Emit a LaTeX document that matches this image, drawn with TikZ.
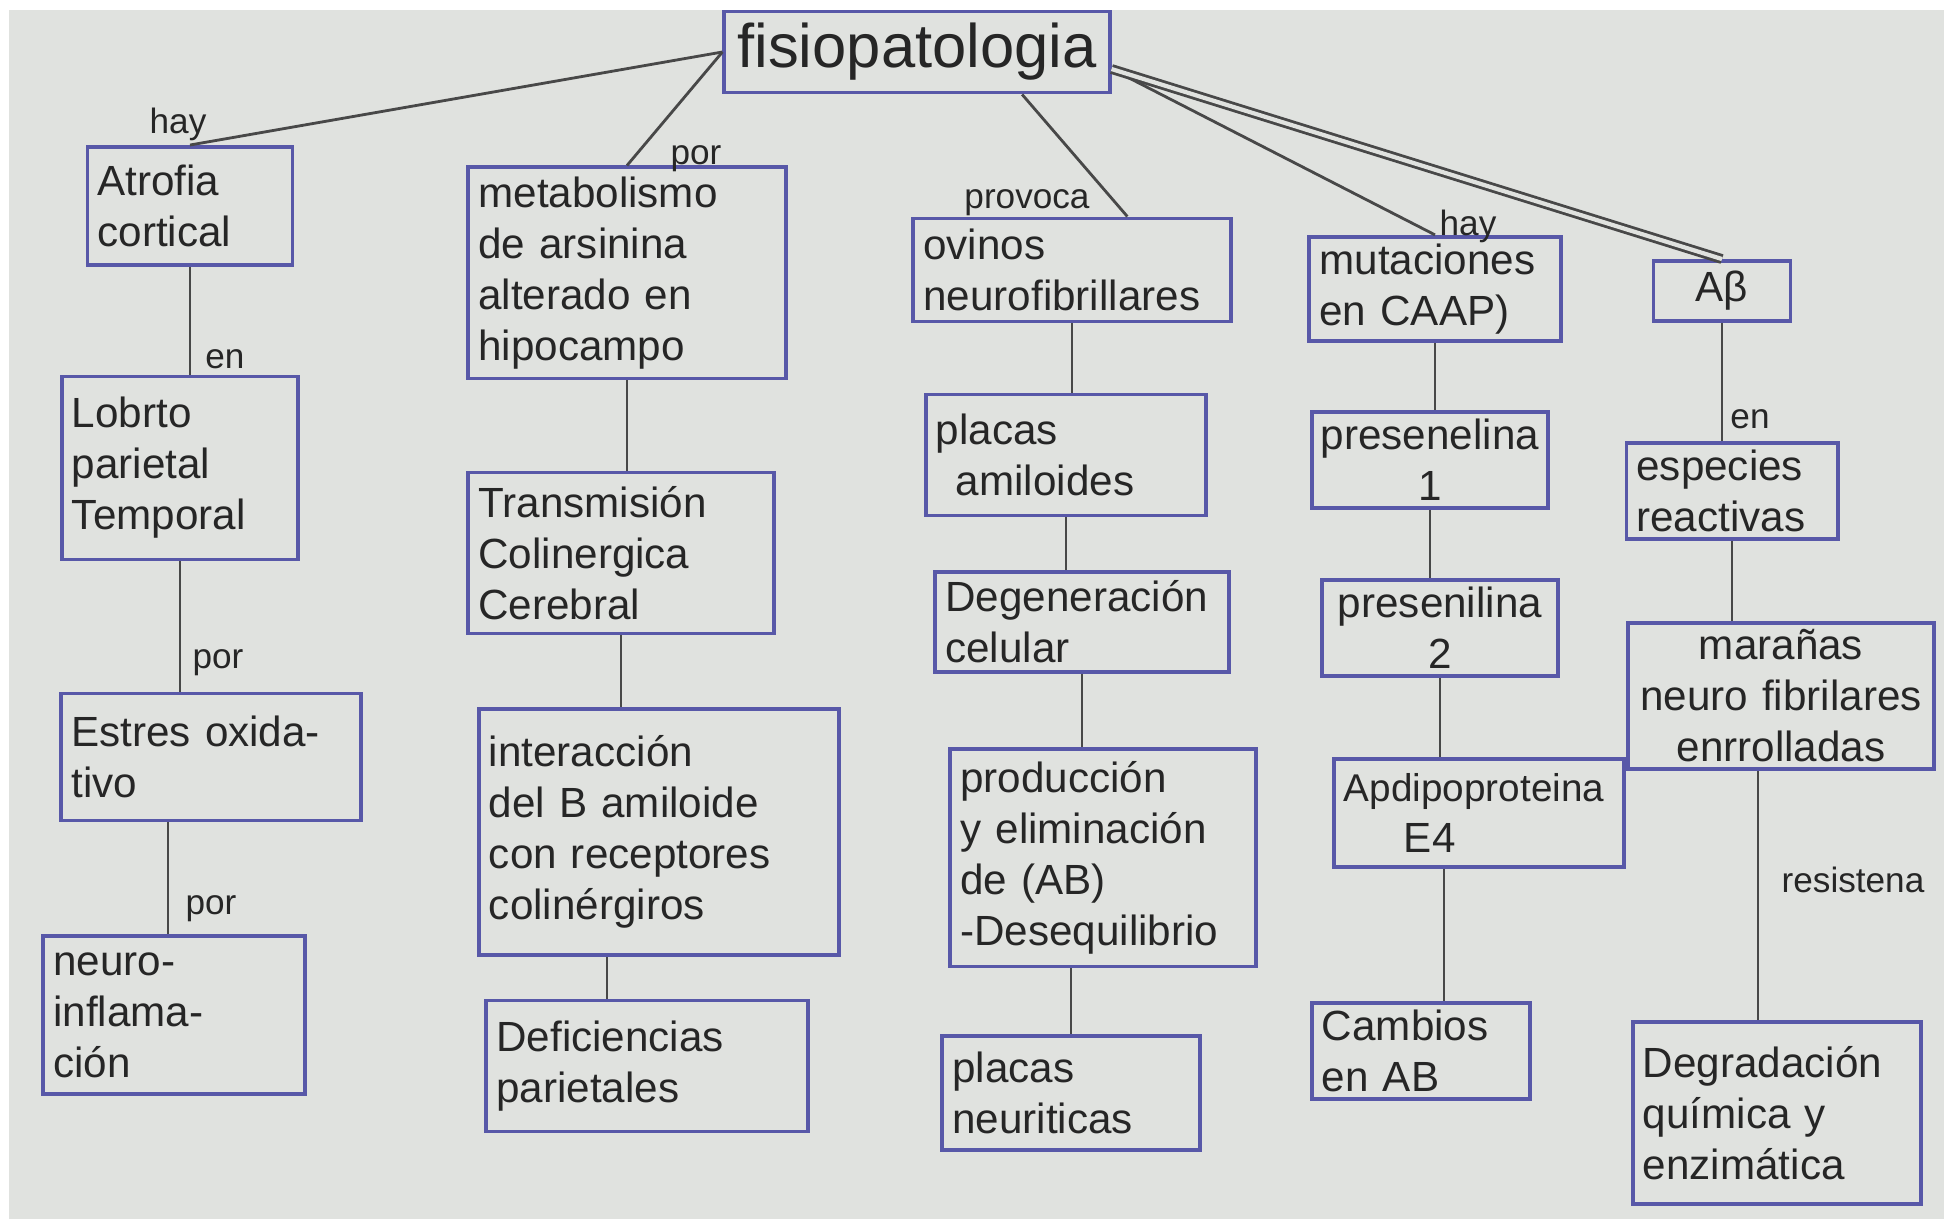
\documentclass[tikz,border=0pt]{standalone}
\usepackage{fontspec}
\setmainfont{Liberation Sans}

\definecolor{bg}{RGB}{224,226,223}
\definecolor{boxblue}{RGB}{88,88,168}
\definecolor{ink}{RGB}{38,38,38}
\definecolor{wirec}{RGB}{72,72,72}

\tikzset{
  concept/.style={draw=boxblue, line width=1.1pt, inner xsep=0.1cm, inner ysep=2pt,
                  align=left, text=ink, font=\fontsize{12}{14.5}\selectfont},
  box/.style 2 args={concept, text width=#1cm, minimum height=#2cm},
  rel/.style={text=ink, font=\fontsize{10}{12}\selectfont},
  wire/.style={draw=wirec, line width=0.8pt},
}

\begin{document}
\begin{tikzpicture}[x=0.01cm, y=-0.01cm]
	\useasboundingbox (0,0) rectangle (1950,1219);
	\fill[white] (0,0) rectangle (1950,1219);
	\fill[bg] (9,10) rectangle (1944,1219);

	% top
	\node[concept, align=center, minimum width=3.85cm, minimum height=.81cm,
	      font=\fontsize{17.5}{20}\selectfont] at (917,52) (fisio) {fisiopatologia};

	% first row
	\node[box={1.85}{1.18}] at (190,206) (atrofia) {Atrofia\\cortical};
	\node[box={2.97}{2.11}] at (627,273) (metab) {metabolismo\\de arsinina\\alterado en\\hipocampo};
	\node[box={2.97}{1.03}] at (1072,270) (ovinos) {ovinos\\neurofibrillares};
	\node[box={2.31}{0.94}] at (1435,289) (mutac) {mutaciones\\en CAAP)};
	\node[box={1.17}{0.60}, align=center] at (1722,291) (ab) {Aβ};

	% second row
	\node[box={2.16}{1.83}] at (180,468) (lobrto) {Lobrto\\parietal\\Temporal};
	\node[box={2.85}{1.61}] at (621,553) (transm) {Transmisión\\Colinergica\\Cerebral};
	\node[box={2.60}{1.21}] at (1066,455) (placas) {placas\\\hspace*{0.2cm}amiloides};
	\node[box={2.26}{0.81}, inner xsep=0.05cm, align=center] at (1430,460) (presen1) {presenelina\\1};
	\node[box={1.91}{0.94}] at (1732,491) (especies) {especies\\reactivas};

	% third row
	\node[box={2.79}{1.27}] at (211,757) (estres) {Estres oxida-\\tivo};
	\node[box={3.40}{2.46}] at (659,832) (interac) {interacción\\del B amiloide\\con receptores\\colinérgiros};
	\node[box={2.73}{1.00}] at (1082,622) (degen) {Degeneración\\celular};
	\node[box={2.26}{0.88}, inner xsep=0.05cm, align=center] at (1440,628) (presen2) {presenilina\\2};
	\node[box={2.85}{1.37}, align=center] at (1781,696) (maranas) {marañas\\neuro fibrilares\\enrrolladas};

	% fourth row
	\node[box={2.85}{2.17}] at (1103,858) (produc) {producción\\y eliminación\\de (AB)\\-Desequilibrio};
	\node[box={2.70}{1.08}] at (1479,813) (apdipo) {{\fontsize{11}{14.5}\selectfont Apdipoproteina}\\\hspace*{0.6cm}E4};

	% bottom
	\node[box={2.41}{1.58}] at (174,1015) (neuro) {neuro-\\inflama-\\ción};
	\node[box={3.01}{1.31}] at (647,1066) (defic) {Deficiencias\\parietales};
	\node[box={2.37}{1.14}] at (1071,1093) (placasn) {placas\\neuriticas};
	\node[box={1.98}{0.93}] at (1421,1051) (cambios) {Cambios\\en AB};
	\node[box={2.68}{1.82}] at (1777,1113) (degrad) {Degradación\\química y\\enzimática};

	% link words
	\node[rel] at (178,124) (hay1) {hay};
	\node[rel] at (696,159) (por1) {por};
	\node[rel] at (1027,203) (provoca) {provoca};
	\node[rel] at (1468,226) (hay2) {hay};
	\node[rel] at (225,359) (en1) {en};
	\node[rel] at (218,663) (por2) {por};
	\node[rel] at (211,909) (por3) {por};
	\node[rel] at (1750,419) (en2) {en};
	\node[rel] at (1853,880) (resist) {resistena};

	\coordinate (cx1) at (168,0);
	\coordinate (cx2) at (1444,0);
	\coordinate (cx3) at (1758,0);
	\coordinate (cx4) at (607,0);

	% from the top
	\draw[wire] (fisio.west) -- (atrofia.north);
	\draw[wire] (fisio.west) -- (metab.north);
	\draw[wire] (fisio.-22) -- (ovinos.44);
	\draw[wire] (fisio.-5) -- (mutac.north);
	\draw[wire, double=bg, double distance=1.2pt] (fisio.-5) -- (ab.north);

	% columns
	\draw[wire] (atrofia.south) -- (atrofia.south |- lobrto.north);
	\draw[wire] (lobrto.south) -- (lobrto.south |- estres.north);
	\draw[wire] (estres.south -| cx1) -- (neuro.north -| cx1);

	\draw[wire] (metab.south) -- (metab.south |- transm.north);
	\draw[wire] (transm.south) -- (transm.south |- interac.north);
	\draw[wire] (interac.south -| cx4) -- (defic.north -| cx4);

	\draw[wire] (ovinos.south) -- (ovinos.south |- placas.north);
	\draw[wire] (placas.south) -- (placas.south |- degen.north);
	\draw[wire] (degen.south) -- (degen.south |- produc.north);
	\draw[wire] (placasn.north |- produc.south) -- (placasn.north);

	\draw[wire] (mutac.south) -- (mutac.south |- presen1.north);
	\draw[wire] (presen1.south) -- (presen1.south |- presen2.north);
	\draw[wire] (presen2.south) -- (presen2.south |- apdipo.north);
	\draw[wire] (apdipo.south -| cx2) -- (cambios.north -| cx2);

	\draw[wire] (ab.south) -- (ab.south |- especies.north);
	\draw[wire] (especies.south) -- (especies.south |- maranas.north);
	\draw[wire] (maranas.south -| cx3) -- (degrad.north -| cx3);
\end{tikzpicture}
\end{document}
